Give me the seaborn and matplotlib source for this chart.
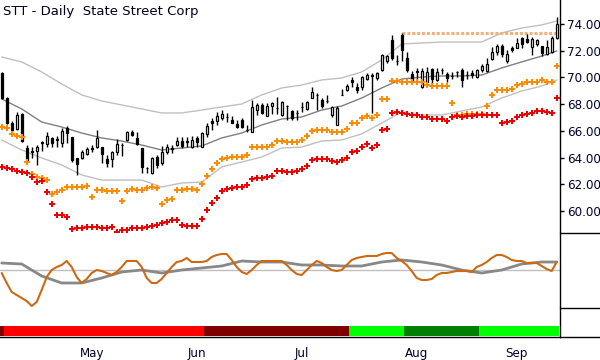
import numpy as np
import matplotlib
matplotlib.use('Agg')
import matplotlib.pyplot as plt
import seaborn as sns
from matplotlib.lines import Line2D

sns.set_style('white')
plt.rcParams['font.family'] = ['DejaVu Sans']

# daily candles, STT, early Apr -> mid Sep (trading-day index)
opens = [70.30, 68.46, 66.59, 66.14, 67.26, 64.72, 64.45, 64.49, 65.10, 65.02,
         65.47, 65.35, 65.09, 66.22, 65.54, 63.97, 63.97, 64.27, 64.70, 64.79,
         64.79, 63.89, 63.89, 64.42, 64.94, 65.32, 65.92, 65.47, 64.72, 63.20,
         62.85, 64.04, 63.60, 64.42, 64.72, 64.94, 65.24, 65.20, 64.79, 65.47,
         64.79, 65.77, 66.74, 66.74, 66.96, 67.04, 66.81, 66.51, 66.81, 66.05,
         65.92, 67.56, 67.94, 67.11, 67.86, 67.70, 67.19, 67.86, 67.49, 67.34,
         67.80, 67.64, 68.46, 68.69, 68.31, 68.23, 67.19, 66.44, 68.69, 69.06,
         69.81, 69.28, 69.28, 69.88, 70.11, 69.96, 70.56, 71.23, 72.80, 71.23,
         73.18, 71.46, 70.26, 70.45, 69.28, 69.66, 70.63, 69.81, 70.56, 70.26,
         70.11, 70.40, 70.56, 70.18, 70.33, 70.03, 70.56, 70.48, 71.38, 71.90,
         72.35, 71.23, 72.20, 72.20, 72.95, 72.88, 72.28, 72.50, 72.35, 71.75,
         71.90, 72.95]
highs = [70.40, 68.50, 66.75, 67.41, 67.34, 64.94, 64.79, 64.94, 65.24, 65.92,
         65.54, 65.62, 66.22, 66.37, 65.54, 63.97, 64.57, 64.79, 64.94, 66.07,
         64.79, 64.19, 64.49, 65.39, 65.09, 66.00, 66.07, 65.92, 64.72, 63.30,
         64.05, 64.20, 64.90, 65.02, 64.94, 65.55, 65.54, 65.54, 65.62, 65.62,
         65.92, 66.59, 66.96, 67.41, 67.56, 67.34, 67.11, 66.81, 66.96, 66.44,
         68.31, 68.09, 68.09, 68.09, 68.16, 68.54, 68.20, 67.94, 67.56, 67.56,
         68.16, 68.20, 69.28, 68.84, 68.46, 68.69, 67.86, 67.86, 69.13, 69.51,
         70.03, 69.58, 70.11, 70.33, 70.33, 70.41, 71.75, 71.68, 73.18, 71.68,
         73.33, 71.90, 70.48, 70.71, 70.70, 70.78, 70.71, 70.71, 70.71, 70.41,
         70.41, 70.48, 70.71, 70.48, 70.56, 70.63, 71.01, 71.46, 72.28, 72.50,
         72.50, 72.05, 72.35, 72.95, 73.03, 73.25, 73.03, 72.88, 72.35, 72.80,
         73.10, 74.52]
lows = [68.40, 66.50, 65.95, 66.07, 65.20, 63.67, 63.97, 63.45, 64.49, 64.79,
        64.79, 64.79, 64.79, 65.09, 63.70, 62.70, 63.90, 64.19, 64.42, 64.72,
        63.60, 63.30, 63.30, 64.19, 64.12, 65.25, 65.62, 64.94, 62.85, 62.85,
        62.80, 63.20, 63.45, 64.27, 64.34, 64.87, 64.72, 64.79, 64.72, 64.79,
        64.79, 65.54, 66.07, 66.44, 66.81, 66.66, 66.59, 66.22, 66.22, 65.92,
        65.92, 67.19, 67.30, 67.11, 67.26, 67.26, 67.15, 66.81, 66.81, 66.81,
        67.41, 67.56, 68.46, 67.56, 67.71, 68.09, 67.04, 66.44, 68.69, 68.98,
        69.28, 68.84, 69.06, 69.81, 67.34, 69.81, 70.48, 71.08, 71.31, 70.93,
        71.23, 70.41, 69.66, 69.81, 69.21, 69.58, 69.51, 69.70, 70.26, 69.66,
        69.88, 70.03, 69.28, 69.88, 69.96, 69.96, 70.41, 70.41, 71.31, 71.68,
        71.53, 71.08, 71.90, 72.20, 72.20, 72.58, 71.68, 72.35, 71.60, 71.68,
        71.83, 72.90]
closes = [68.46, 66.59, 66.10, 67.19, 65.24, 63.82, 64.50, 64.79, 65.15, 65.62,
          65.09, 65.40, 65.99, 65.84, 63.82, 63.52, 64.42, 64.64, 64.68, 65.47,
          64.27, 63.60, 64.42, 65.02, 64.96, 65.92, 65.69, 65.02, 63.30, 63.22,
          63.97, 63.45, 64.42, 64.79, 64.64, 65.24, 64.87, 65.24, 65.32, 65.17,
          65.84, 66.37, 66.59, 67.11, 67.26, 67.05, 66.59, 66.29, 66.29, 66.07,
          67.79, 67.94, 67.34, 67.86, 68.09, 67.71, 68.16, 67.88, 66.96, 67.33,
          67.79, 68.16, 68.91, 68.70, 67.86, 68.24, 67.79, 67.71, 68.69, 69.36,
          69.66, 69.06, 70.03, 70.18, 70.18, 70.33, 71.68, 71.60, 71.46, 71.22,
          72.05, 70.56, 69.81, 70.40, 70.48, 70.41, 69.88, 70.41, 70.57, 69.96,
          70.12, 70.41, 69.81, 70.19, 70.18, 70.56, 70.86, 71.01, 71.90, 72.35,
          71.75, 71.75, 72.05, 72.58, 72.50, 72.65, 72.88, 72.80, 71.83, 72.28,
          72.95, 74.00]

# orange and red trailing stop dots (one per day)
stop_orange = [66.29, 66.22, 65.77, 65.62, 65.54, 63.67, 62.77, 62.55, 62.47, 62.32,
               61.28, 61.43, 61.57, 61.80, 61.80, 61.80, 61.80, 61.87, 61.05, 61.57,
               61.57, 61.50, 61.50, 61.50, 60.75, 61.50, 61.65, 61.57, 61.57, 61.72,
               61.80, 61.72, 60.53, 60.83, 60.90, 61.57, 61.57, 61.65, 61.65, 61.57,
               62.02, 62.62, 63.15, 63.60, 63.89, 63.97, 64.04, 64.04, 64.04, 64.19,
               64.79, 64.79, 64.79, 64.79, 64.94, 65.24, 65.24, 65.17, 65.17, 65.17,
               65.32, 65.62, 65.99, 66.07, 66.07, 66.07, 65.92, 65.92, 65.92, 66.14,
               66.59, 66.59, 66.96, 67.11, 66.96, 67.19, 68.39, 68.39, 69.73, 69.73,
               69.66, 69.66, 69.66, 69.66, 69.66, 69.43, 69.36, 69.36, 69.36, 69.36,
               68.09, 67.19, 67.19, 67.26, 67.26, 67.26, 67.26, 67.86, 68.69, 69.06,
               69.06, 69.06, 69.13, 69.43, 69.51, 69.66, 69.66, 69.66, 69.81, 69.66,
               69.66, 70.86]
stop_red = [63.30, 63.22, 63.15, 63.00, 62.92, 62.85, 62.55, 62.17, 62.25, 61.43,
            60.53, 59.70, 59.70, 59.55, 58.66, 58.73, 58.73, 58.81, 58.81, 58.81,
            58.73, 58.73, 58.81, 58.43, 58.58, 58.58, 58.73, 58.73, 58.73, 58.81,
            58.88, 58.96, 59.11, 59.18, 59.33, 59.33, 58.96, 58.88, 58.88, 58.88,
            59.40, 60.08, 60.60, 60.98, 61.50, 61.65, 61.72, 61.80, 61.80, 61.95,
            62.40, 62.47, 62.47, 62.55, 62.62, 63.00, 63.00, 62.92, 62.92, 63.00,
            63.15, 63.37, 63.82, 63.89, 63.89, 63.89, 63.75, 63.67, 63.82, 63.97,
            64.42, 64.49, 64.79, 65.02, 64.72, 64.94, 66.07, 66.14, 67.34, 67.41,
            67.34, 67.26, 67.19, 67.19, 67.04, 67.04, 66.89, 66.89, 66.89, 66.74,
            67.04, 67.11, 67.04, 67.11, 67.11, 67.19, 67.19, 67.19, 67.19, 67.19,
            66.59, 66.66, 66.74, 67.04, 67.19, 67.26, 67.34, 67.49, 67.49, 67.41,
            67.34, 68.46]

# envelope read every 4 days
band_idx = [0, 4, 8, 12, 16, 20, 24, 28, 32, 36, 40, 44, 48, 52, 56, 60,
            64, 68, 72, 76, 80, 84, 88, 92, 96, 100, 104, 108, 111]
band_mid = [68.39, 67.64, 66.66, 66.29, 65.84, 65.47, 65.24, 64.94, 64.57, 64.72,
            64.87, 65.47, 65.84, 66.44, 66.89, 67.04, 67.56, 67.86, 68.46, 69.21,
            69.88, 70.03, 70.11, 70.11, 70.18, 70.71, 71.16, 71.60, 71.98]
band_up = [71.53, 71.16, 70.41, 69.51, 68.69, 68.24, 67.94, 67.64, 67.34, 67.34,
           67.56, 67.79, 68.01, 68.69, 69.21, 69.43, 69.81, 69.96, 70.41, 71.31,
           72.50, 72.58, 72.65, 72.65, 72.65, 73.33, 73.70, 73.93, 74.22]
band_lo = [65.32, 64.57, 63.97, 63.45, 62.70, 62.32, 62.32, 62.32, 61.80, 62.10,
           62.17, 63.30, 63.67, 64.04, 64.72, 64.79, 65.24, 65.32, 65.77, 66.59,
           67.41, 67.19, 67.19, 67.49, 67.79, 68.46, 68.98, 69.36, 69.81]

resist_level = 73.33
resist_from, resist_to = 80, 111

# lower oscillator
osc_fast = [-0.3, -1.3, -2.2, -2.5, -2.8, -3.1, -3.6, -3.2, -2.0, -0.7,
            0.0, 0.3, 0.5, 0.9, 0.3, -0.7, -1.3, -0.9, -0.3, 0.0,
            -0.1, -0.3, -0.5, -0.2, 0.3, 0.9, 0.9, 0.9, 0.3, -0.8,
            -1.3, -1.3, -0.9, -0.3, 0.3, 0.8, 0.9, 1.2, 0.8, 0.8,
            0.8, 0.9, 1.3, 1.5, 1.6, 1.6, 1.0, 0.3, -0.2, -0.4,
            0.0, 0.5, 0.9, 0.9, 0.9, 0.9, 0.9, 0.5, 0.0, -0.4,
            -0.5, 0.0, 0.5, 0.9, 0.7, 0.3, 0.0, -0.1, 0.0, 0.5,
            1.0, 1.2, 1.3, 1.4, 1.4, 1.4, 1.6, 1.7, 1.7, 1.2,
            0.9, 0.5, -0.1, -0.8, -1.0, -1.0, -0.9, -0.5, -0.3, -0.3,
            -0.2, -0.1, -0.1, -0.1, -0.2, 0.3, 0.5, 0.8, 1.2, 1.5,
            1.5, 1.3, 1.0, 0.9, 0.9, 0.7, 0.7, 0.7, 0.4, 0.1,
            -0.1, 0.8]
osc_slow = [0.7, 0.6, -0.6, -1.3, -1.3, -0.8, -0.2, 0.0, -0.3, 0.0,
            0.2, 0.4, 0.9, 0.8, 0.8, 0.5, 0.5, 0.4, 0.4, 0.8,
            1.0, 0.8, 0.5, 0.0, -0.3, 0.0, 0.6, 0.8, 0.8]

# trend strip
trend_states = ['weak down', 'strong down', 'weak down', 'strong up', 'weak up', 'strong up']
trend_lengths = [1, 40, 29, 11, 15, 16]
trend_colors = {'strong down': '#ff0000', 'weak down': '#800000',
                'strong up': '#00ff00', 'weak up': '#008000'}

month_pos = [18, 39, 60, 83, 103]
month_labels = ['May', 'Jun', 'Jul', 'Aug', 'Sep']
week_pos = [1, 6, 10, 15, 20, 25, 30, 35, 44, 49, 54, 59, 63, 68, 73, 78,
            88, 93, 98, 107]

o = np.array(opens); h = np.array(highs); l = np.array(lows); c = np.array(closes)
x = np.arange(len(c))
xlim = (-0.34, 111.66)
W, H = 600, 360
right = 560 / W

fig = plt.figure(figsize=(6, 3.6), dpi=100)
fig.patch.set_facecolor('white')

ax = fig.add_axes([0, 1 - 233 / H, right, 233 / H])
axo = fig.add_axes([0, 1 - 308 / H, right, 75 / H])
axb = fig.add_axes([0, 1 - 337 / H, right, 29 / H])

for a in (ax, axo, axb):
    a.set_xlim(*xlim)
    for s in ('top', 'left', 'bottom'):
        a.spines[s].set_visible(False)
    a.spines['right'].set_color('black')
    a.spines['right'].set_linewidth(1)
    a.set_facecolor('white')
    a.grid(False)

# price panel
sns.lineplot(x=band_idx, y=band_up, ax=ax, color='#c0c0c0', lw=1)
sns.lineplot(x=band_idx, y=band_lo, ax=ax, color='#c0c0c0', lw=1)
sns.lineplot(x=band_idx, y=band_mid, ax=ax, color='#808080', lw=1)
ax.hlines(resist_level, resist_from, resist_to, colors='#f2b07a', lw=2.2,
          linestyles=(0, (1, 0.6)), zorder=2)

ax.vlines(x, l, h, color='black', lw=1, zorder=3)
up = c >= o
body_lo = np.minimum(o, c)
body_h = np.abs(c - o)
ax.bar(x, body_h, bottom=body_lo, width=0.45,
       color=np.where(up, 'white', 'black'), edgecolor='black',
       linewidth=0.9, zorder=4)

sns.scatterplot(x=x, y=stop_orange, ax=ax, marker='P', s=13, color='#ff8c00',
                linewidth=0, zorder=5)
sns.scatterplot(x=x, y=stop_red, ax=ax, marker='P', s=13, color='#ee0000',
                linewidth=0, zorder=5)

ax.set_ylim(58.356, 75.796)
ax.yaxis.tick_right()
ax.set_yticks(range(60, 75, 2))
ax.set_yticklabels([f'{v:.2f}' for v in range(60, 75, 2)])
ax.tick_params(axis='y', direction='out', length=3, width=1, pad=2,
               labelsize=8.6, colors='black')
ax.tick_params(axis='y', labelcolor='#000030')
ax.set_xticks([])
ax.set_xlabel('')
ax.set_ylabel('')

# oscillator panel
axo.axhline(0, color='#c0c0c0', lw=1, zorder=1)
sns.lineplot(x=band_idx, y=osc_slow, ax=axo, color='#888888', lw=2)
sns.lineplot(x=x, y=osc_fast, ax=axo, color='#cc6a14', lw=1.5)
axo.set_ylim(-3.8, 3.7)
axo.set_xticks([])
axo.set_yticks([])
axo.set_xlabel('')
axo.set_ylabel('')

# trend strip
strip = []
for state, n in zip(trend_states, trend_lengths):
    strip += [trend_colors[state]] * n
axb.bar(x, 0.35, bottom=0.035, width=1.0, color=strip, linewidth=0)
axb.set_ylim(0, 1)
axb.set_yticks([])
axb.spines['bottom'].set_visible(True)
axb.spines['bottom'].set_color('black')
axb.spines['bottom'].set_linewidth(1)
axb.set_xticks(month_pos)
axb.set_xticklabels(month_labels)
axb.set_xticks(week_pos, minor=True)
axb.tick_params(axis='x', which='major', direction='out', length=5, width=1,
                pad=2, labelsize=8.6, colors='black')
axb.tick_params(axis='x', which='minor', direction='out', length=2.2, width=1,
                colors='black')
axb.tick_params(axis='x', labelcolor='#000030')

# right-margin separators and the full-width bottom rule
for yy in (233, 308, 337):
    fig.add_artist(Line2D([right, 1], [1 - yy / H, 1 - yy / H],
                          transform=fig.transFigure, color='black', lw=1))

fig.text(3 / W, 1 - 12 / H, 'STT - Daily  State Street Corp', fontsize=9.5,
         va='center', ha='left', color='#000020')

fig.savefig('out.png', dpi=100)
plt.close(fig)
